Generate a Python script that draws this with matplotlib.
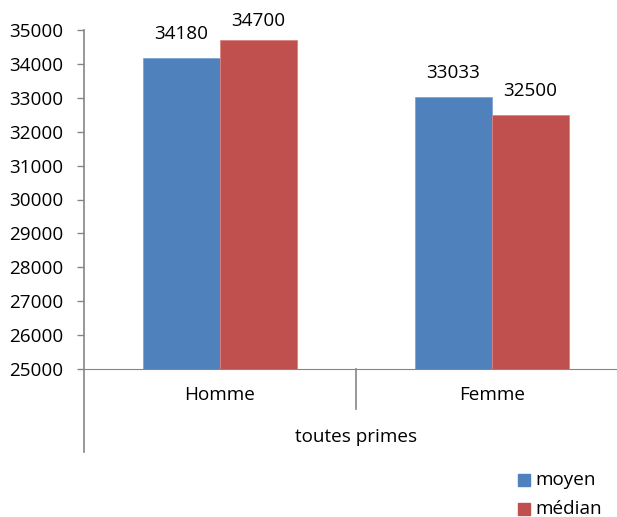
import numpy as np
import matplotlib
matplotlib.use("Agg")
import matplotlib.pyplot as plt
from matplotlib.patches import Rectangle

categories = ["Homme", "Femme"]
group_label = "toutes primes"
moyen = [34180, 33033]
median = [34700, 32500]
series_names = ["moyen", "médian"]
colors = ["#4F81BD", "#C0504D"]
yticks = list(range(25000, 35001, 1000))

plt.rcParams["font.family"] = ["Open Sans", "DejaVu Sans"]
fs = 13.6
W, H = 617, 517
fig = plt.figure(figsize=(W / 100, H / 100), dpi=100)

# axes placed in pixel coords: left 84, right 628, top 30, bottom 369
ax = fig.add_axes([84 / W, 1 - 369 / H, (628 - 84) / W, (369 - 30) / H])
ax.set_xlim(-0.5, 1.5)
ax.set_ylim(25000, 35000)

x = np.arange(len(categories))
bw = 77 / 272
ax.bar(x - bw / 2, moyen, bw, color=colors[0], edgecolor="#7FA3D3", linewidth=0.6)
ax.bar(x + bw / 2, median, bw, color=colors[1], edgecolor="#D88583", linewidth=0.6)

# value labels
for xi, v in zip(x - bw / 2, moyen):
    ax.annotate(str(v), (xi, v), xytext=(0, 17), textcoords="offset points",
                ha="center", va="center", fontsize=fs)
for xi, v, off in zip(x + bw / 2, median, [14, 17]):
    ax.annotate(str(v), (xi, v), xytext=(0, off), textcoords="offset points",
                ha="center", va="center", fontsize=fs)

gray = "#868686"
for s in ["top", "right"]:
    ax.spines[s].set_visible(False)
ax.spines["bottom"].set_color(gray)
ax.spines["left"].set_visible(False)
ax.set_yticks(yticks)
ax.set_yticklabels([str(t) for t in yticks], fontsize=fs)
ax.tick_params(axis="y", direction="out", length=5, color=gray, width=1, pad=10)
ax.set_xticks([])

# vertical axis extends down through the category area
axis_bottom = (369 - 452) / (369 - 30)
ax.plot([0, 0], [axis_bottom, 1], transform=ax.transAxes, color=gray,
        lw=1.2, clip_on=False)
sep_bottom = (369 - 409) / (369 - 30)
ax.plot([0.5, 0.5], [sep_bottom, 0], transform=ax.transAxes, color=gray,
        lw=1.2, clip_on=False)

for xi, c in zip(x, categories):
    ax.text(xi, (369 - 395) / (369 - 30), c, transform=ax.get_xaxis_transform(),
            ha="center", va="center", fontsize=fs)
ax.text(0.5, (369 - 437) / (369 - 30), group_label, transform=ax.get_xaxis_transform(),
        ha="center", va="center", fontsize=fs)

# legend at bottom right
for i, (name, c) in enumerate(zip(series_names, colors)):
    yc = 480 + i * 29
    fig.patches.append(Rectangle((518 / W, 1 - (yc + 6) / H), 12 / W, 12 / H,
                                 transform=fig.transFigure, color=c))
    fig.text(535 / W, 1 - yc / H, name, ha="left", va="center", fontsize=fs)

fig.savefig("out.png", dpi=100)
